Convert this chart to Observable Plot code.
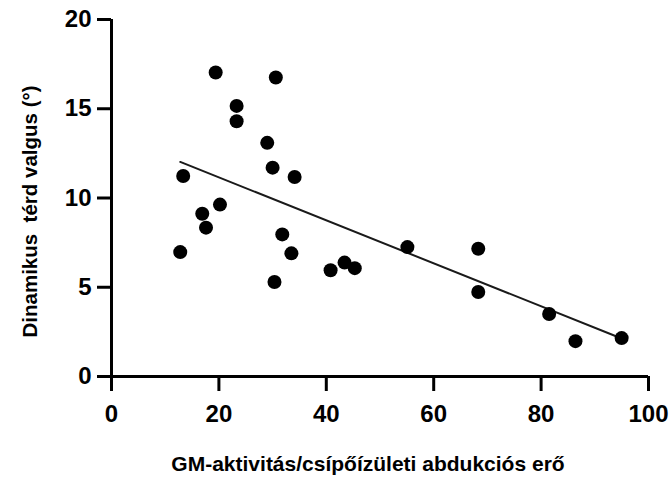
<!DOCTYPE html>
<html>
<head>
<meta charset="utf-8">
<script src="https://cdn.jsdelivr.net/npm/d3@7"></script>
<script src="https://cdn.jsdelivr.net/npm/@observablehq/plot@0.6"></script>
<style>
  html, body { margin: 0; padding: 0; background: #fff; }
  #chart svg { display: block; }
</style>
</head>
<body>
<div id="chart"></div>
<script>
// GM activity / hip abduction strength (x) vs dynamic knee valgus (y)
const gmRatio = [19.4, 30.6, 23.3, 23.3, 29.0, 30.0, 34.1, 13.35, 20.2, 16.9, 17.6, 12.8,
                 31.8, 33.5, 40.8, 43.4, 45.3, 30.35, 55.1, 68.3, 68.3, 81.5, 86.4, 95.0];
const valgus  = [17.03, 16.75, 15.16, 14.3, 13.09, 11.7, 11.18, 11.23, 9.63, 9.12, 8.34, 6.97,
                 7.96, 6.9, 5.95, 6.38, 6.07, 5.29, 7.25, 7.16, 4.73, 3.5, 1.98, 2.15];
// fitted regression line endpoints
const fitX = [12.8, 95.0];
const fitY = [12.02, 2.13];
const xTicks = [0, 20, 40, 60, 80, 100];
const yTicks = [0, 5, 10, 15, 20];
const xLabel = "GM-aktivitás/csípőízületi abdukciós erő";
const yLabel = "Dinamikus\u00a0 térd valgus (°)";

const points = gmRatio.map((x, i) => ({x, y: valgus[i]}));
const fit = fitX.map((x, i) => ({x, y: fitY[i]}));

const font = "'Liberation Sans', Arial, Helvetica, sans-serif";

const chart = Plot.plot({
  width: 672,
  height: 477,
  marginLeft: 111,
  marginRight: 24,
  marginTop: 19,
  marginBottom: 101,
  style: {fontFamily: font, background: "#fff", color: "#000"},
  x: {domain: [0, 100]},
  y: {domain: [0, 20]},
  marks: [
    Plot.axisX({ticks: xTicks, tickSize: 15, tickPadding: 13, strokeWidth: 3,
                fontSize: 24, fontWeight: "bold", label: null, tickFormat: d => String(d)}),
    Plot.axisY({ticks: yTicks, tickSize: 14, tickPadding: 6, strokeWidth: 3,
                fontSize: 24, fontWeight: "bold", label: null, tickFormat: d => String(d)}),
    Plot.ruleX([0], {stroke: "#000", strokeWidth: 3}),
    Plot.ruleY([0], {stroke: "#000", strokeWidth: 3}),
    Plot.line(fit, {x: "x", y: "y", stroke: "#1a1a1a", strokeWidth: 2}),
    Plot.dot(points, {x: "x", y: "y", r: 7, fill: "#000", stroke: "none"}),
    Plot.text([xLabel], {frameAnchor: "bottom", dx: -12, dy: 88, fontSize: 21, fontWeight: "bold",
                         fill: "#000", lineAnchor: "middle", textAnchor: "middle", text: d => d}),
    Plot.text([yLabel], {frameAnchor: "left", dx: -81, dy: 13.5, rotate: -90, fontSize: 20.5,
                         fontWeight: "bold", fill: "#000", lineAnchor: "middle", textAnchor: "middle",
                         text: d => d})
  ]
});
document.getElementById("chart").appendChild(chart);
</script>
</body>
</html>
